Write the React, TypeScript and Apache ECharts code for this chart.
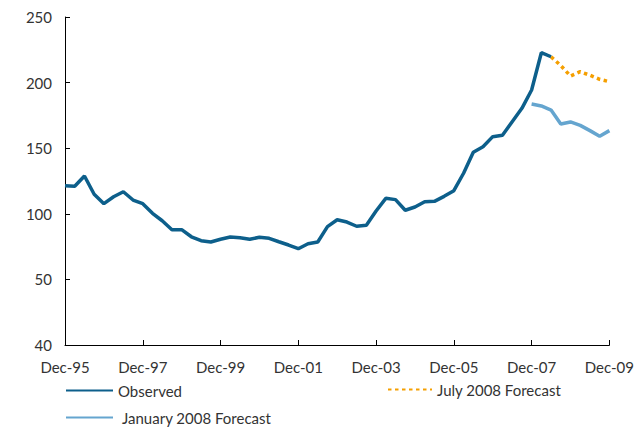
import React, { useEffect, useRef } from "react";
import * as echarts from "echarts";

const categories = [
  "Dec-95","Mar-96","Jun-96","Sep-96","Dec-96","Mar-97","Jun-97","Sep-97",
  "Dec-97","Mar-98","Jun-98","Sep-98","Dec-98","Mar-99","Jun-99","Sep-99",
  "Dec-99","Mar-00","Jun-00","Sep-00","Dec-00","Mar-01","Jun-01","Sep-01",
  "Dec-01","Mar-02","Jun-02","Sep-02","Dec-02","Mar-03","Jun-03","Sep-03",
  "Dec-03","Mar-04","Jun-04","Sep-04","Dec-04","Mar-05","Jun-05","Sep-05",
  "Dec-05","Mar-06","Jun-06","Sep-06","Dec-06","Mar-07","Jun-07","Sep-07",
  "Dec-07","Mar-08","Jun-08","Sep-08","Dec-08","Mar-09","Jun-09","Sep-09",
  "Dec-09",
];

const observed: (number | null)[] = [
  121.4, 121, 128.8, 114.9, 107.7, 113, 116.8, 110.5,
  107.7, 100.4, 94.7, 87.9, 87.9, 82.5, 79.5, 78.5,
  80.6, 82.3, 81.8, 80.6, 82.1, 81.3, 78.7, 76.2,
  73.4, 77.2, 78.5, 90.2, 95.5, 93.7, 90.5, 91.2,
  102.1, 111.8, 110.8, 102.7, 105.2, 109.2, 109.5, 113.3,
  117.6, 130.9, 146.9, 151.1, 158.8, 159.8, 170.2, 180.4,
  194.4, 222.8, 219.7, null, null, null, null, null, null,
];

const julyForecast: (number | null)[] = [
  ...new Array(50).fill(null),
  219.7, 213, 205, 208.3, 205.6, 202.5, 200.7,
];

const janForecast: (number | null)[] = [
  ...new Array(48).fill(null),
  183.7, 182.2, 179.1, 168.4, 170, 167.4, 163.4, 159.1, 163.4,
];

const yTickValues = [0, 50, 100, 150, 200, 250];
const yTickLabels = ["40", "50", "100", "150", "200", "250"];

const FONT = "Lato";
const TEXT = "#333333";

export default function App() {
  const ref = useRef<HTMLDivElement>(null);
  useEffect(() => {
    if (!ref.current) return;
    const chart = echarts.init(ref.current, null, { renderer: "svg" });
    const legendBase = {
      itemHeight: 14,
      itemStyle: { opacity: 0 },
      textStyle: { fontFamily: FONT, fontSize: 15, color: TEXT },
    };
    chart.setOption({
      animation: false,
      textStyle: { fontFamily: FONT },
      grid: { left: 65, right: 24, top: 17, bottom: 82, containLabel: false },
      legend: [
        {
          ...legendBase,
          data: ["Observed"],
          left: 60,
          top: 378,
          itemWidth: 47,
        },
        {
          ...legendBase,
          data: ["July 2008 Forecast"],
          left: 382,
          top: 377,
          itemWidth: 44,
        },
        {
          ...legendBase,
          data: ["January 2008 Forecast"],
          left: 60,
          top: 405,
          itemWidth: 47,
          textStyle: { fontFamily: FONT, fontSize: 15, color: TEXT, padding: [0, 0, 0, 4] },
        },
      ],
      xAxis: {
        type: "category",
        data: categories,
        boundaryGap: false,
        axisLine: { lineStyle: { color: "#000", width: 1 } },
        axisTick: { inside: true, length: 5, interval: 7, lineStyle: { color: "#000" } },
        axisLabel: {
          interval: 7,
          fontFamily: FONT,
          fontSize: 15,
          color: TEXT,
          margin: 14,
        },
        splitLine: { show: false },
      },
      yAxis: {
        type: "value",
        min: 0,
        max: 250,
        interval: 50,
        axisLine: { show: true, lineStyle: { color: "#000", width: 1 } },
        axisTick: { show: true, inside: true, length: 5, lineStyle: { color: "#000" } },
        axisLabel: {
          fontFamily: FONT,
          fontSize: 15,
          color: TEXT,
          margin: 13,
          formatter: (v: number) => {
            const i = yTickValues.indexOf(v);
            return i >= 0 ? yTickLabels[i] : String(v);
          },
        },
        splitLine: { show: false },
      },
      series: [
        {
          name: "Observed",
          type: "line",
          data: observed,
          symbol: "none",
          connectNulls: false,
          lineStyle: { color: "#0d5f8b", width: 3.5 },
          itemStyle: { color: "#0d5f8b" },
          z: 3,
        },
        {
          name: "July 2008 Forecast",
          type: "line",
          data: julyForecast,
          symbol: "none",
          lineStyle: { color: "#f59f00", width: 3.5, type: [3.5, 3.5] },
          itemStyle: { color: "#f59f00" },
          z: 2,
        },
        {
          name: "January 2008 Forecast",
          type: "line",
          data: janForecast,
          symbol: "none",
          lineStyle: { color: "#65a5cf", width: 3.5 },
          itemStyle: { color: "#65a5cf" },
          z: 2,
        },
      ],
    });
    return () => chart.dispose();
  }, []);
  return <div ref={ref} style={{ width: 637, height: 427, position: "absolute", left: 0, top: 0 }} />;
}
